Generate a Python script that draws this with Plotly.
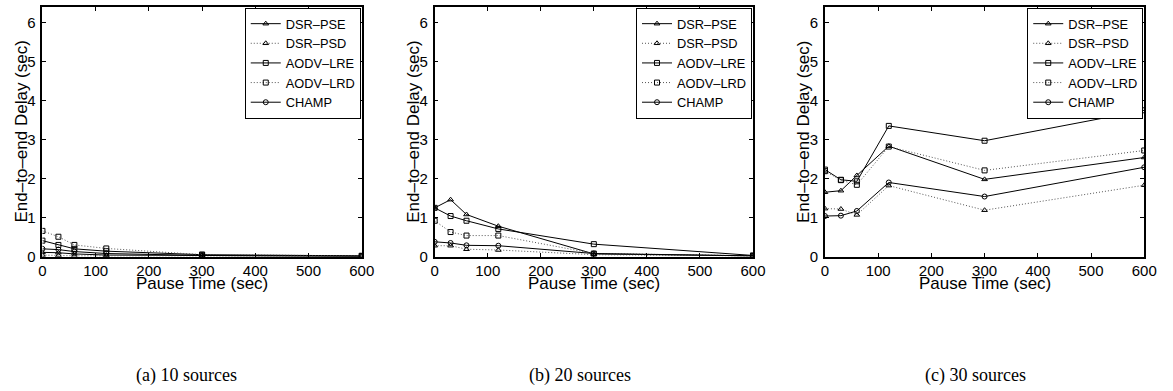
import plotly.graph_objects as go

pause_time = [0, 30, 60, 120, 300, 600]
series_names = ["DSR–PSE", "DSR–PSD", "AODV–LRE", "AODV–LRD", "CHAMP"]

# (a) 10 sources
a_dsr_pse = [0.11, 0.10, 0.07, 0.04, 0.03, 0.01]
a_dsr_psd = [0.04, 0.03, 0.02, 0.02, 0.02, 0.01]
a_aodv_lre = [0.41, 0.30, 0.20, 0.14, 0.05, 0.02]
a_aodv_lrd = [0.66, 0.51, 0.30, 0.21, 0.05, 0.02]
a_champ = [0.20, 0.18, 0.13, 0.08, 0.03, 0.01]

# (b) 20 sources
b_dsr_pse = [1.25, 1.46, 1.08, 0.78, 0.07, 0.02]
b_dsr_psd = [0.28, 0.28, 0.19, 0.17, 0.05, 0.02]
b_aodv_lre = [1.25, 1.04, 0.92, 0.71, 0.32, 0.03]
b_aodv_lrd = [0.92, 0.63, 0.54, 0.54, 0.08, 0.02]
b_champ = [0.38, 0.35, 0.29, 0.28, 0.08, 0.02]

# (c) 30 sources
c_dsr_pse = [1.65, 1.69, 2.08, 2.83, 1.98, 2.54]
c_dsr_psd = [1.23, 1.22, 1.07, 1.82, 1.19, 1.83]
c_aodv_lre = [2.23, 1.97, 1.93, 3.35, 2.97, 3.75]
c_aodv_lrd = [2.19, 1.96, 1.84, 2.82, 2.21, 2.72]
c_champ = [1.04, 1.05, 1.17, 1.90, 1.54, 2.29]

captions = ["(a) 10 sources", "(b) 20 sources", "(c) 30 sources"]
x_ticks = [0, 100, 200, 300, 400, 500, 600]
y_ticks = [0, 1, 2, 3, 4, 5, 6]

panels = [
    [a_dsr_pse, a_dsr_psd, a_aodv_lre, a_aodv_lrd, a_champ],
    [b_dsr_pse, b_dsr_psd, b_aodv_lre, b_aodv_lrd, b_champ],
    [c_dsr_pse, c_dsr_psd, c_aodv_lre, c_aodv_lrd, c_champ],
]

styles = [
    dict(dash="solid", symbol="triangle-up-open", color="#000000"),
    dict(dash="1px,2px", symbol="triangle-up-open", color="#555555"),
    dict(dash="solid", symbol="square-open", color="#000000"),
    dict(dash="1px,2px", symbol="square-open", color="#555555"),
    dict(dash="solid", symbol="circle-open", color="#000000"),
]

W, H = 1173, 391
x_domains = [(39 / W, 363 / W), (437 / W, 760 / W), (833 / W, 1157 / W)]
y_domain = (1 - 262 / H, 1 - 7 / H)

fig = go.Figure()
for p, series in enumerate(panels):
    ax = "" if p == 0 else str(p + 1)
    for name, vals, st in zip(series_names, series, styles):
        fig.add_trace(go.Scatter(
            x=pause_time, y=vals, name=name, mode="lines+markers",
            xaxis="x" + ax, yaxis="y" + ax,
            legend="legend" + ax,
            line=dict(color=st["color"], width=1, dash=st["dash"]),
            marker=dict(symbol=st["symbol"], size=5, color="#000000",
                        line=dict(color="#000000", width=1)),
        ))

layout = dict(
    width=W, height=H,
    margin=dict(l=0, r=0, t=0, b=0),
    paper_bgcolor="white", plot_bgcolor="white",
    font=dict(family="Liberation Sans, Arial", size=15, color="black"),
    annotations=[],
)
axis_common = dict(
    showline=True, mirror="ticks", linecolor="black", linewidth=1.5,
    ticks="inside", ticklen=4, tickcolor="black", tickwidth=1,
    showgrid=False, zeroline=False,
    tickfont=dict(size=15, family="Liberation Sans, Arial"),
)
for p in range(3):
    ax = "" if p == 0 else str(p + 1)
    layout["xaxis" + ax] = dict(
        axis_common, domain=list(x_domains[p]), range=[0, 600],
        tickvals=x_ticks, anchor="y" + ax,
    )
    layout["yaxis" + ax] = dict(
        axis_common, domain=list(y_domain), range=[0, 6.4],
        tickvals=y_ticks, anchor="x" + ax, ticklabelstandoff=2,
    )
    layout["legend" + ax] = dict(
        x=x_domains[p][1] - 1 / W, xanchor="right",
        y=y_domain[1] - 1 / H, yanchor="top",
        bgcolor="white", bordercolor="black", borderwidth=1,
        font=dict(size=12.8, family="Liberation Sans, Arial"),
        tracegroupgap=0, itemwidth=30,
    )
    xc = (x_domains[p][0] + x_domains[p][1]) / 2
    layout["annotations"].append(dict(
        text="Pause Time (sec)", x=xc, y=1 - 289 / H, xref="paper", yref="paper",
        xanchor="center", yanchor="middle", showarrow=False,
        font=dict(size=17, family="Liberation Sans, Arial"),
    ))
    layout["annotations"].append(dict(
        text="End–to–end Delay (sec)", x=x_domains[p][0] - 21 / W,
        y=(y_domain[0] + y_domain[1]) / 2, xref="paper", yref="paper",
        xanchor="center", yanchor="middle", textangle=-90, showarrow=False,
        font=dict(size=17, family="Liberation Sans, Arial"),
    ))
    cap_x = [185, 584, 986][p] / W
    layout["annotations"].append(dict(
        text=captions[p], x=cap_x, y=1 - 383 / H, xref="paper", yref="paper",
        xanchor="center", yanchor="middle", showarrow=False,
        font=dict(size=18, family="Liberation Serif, Times New Roman"),
    ))

fig.update_layout(**layout)
fig.write_html("out.html")
